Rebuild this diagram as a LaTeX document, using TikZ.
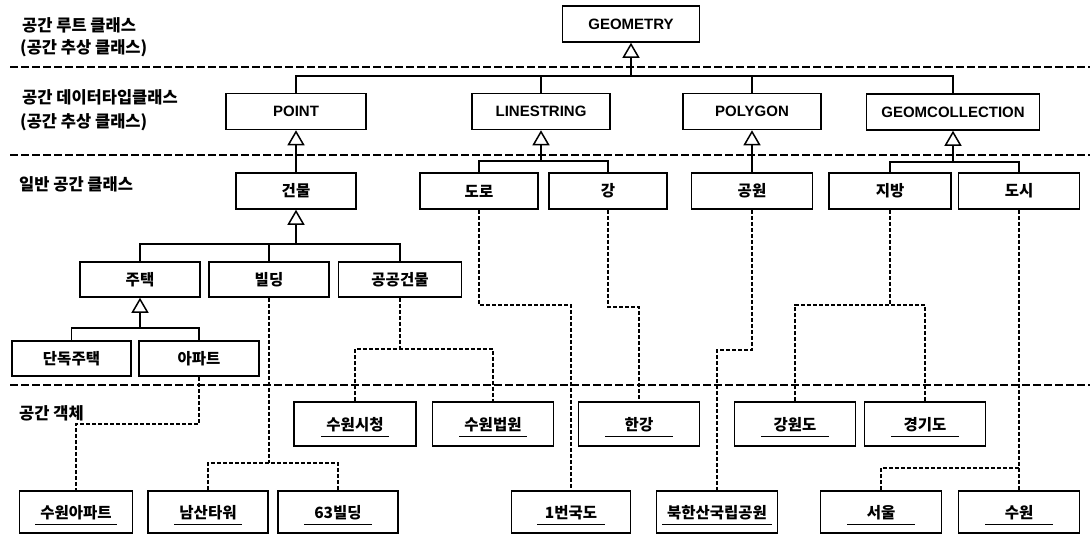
\documentclass[tikz,border=0pt]{standalone}
\usepackage{fontspec}
\setmainfont{Noto Sans CJK KR}
\newfontfamily\latinsf{Liberation Sans}
\usetikzlibrary{arrows.meta}

% object name with a UML-style underline (at least 68pt long)
\newcommand\objlabel[1]{%
  \setbox0\hbox{#1}%
  \dimen0=\wd0 \advance\dimen0 by 10pt
  \ifdim\dimen0<68pt \dimen0=68pt\fi
  \vbox{\kern6pt\hbox to\dimen0{\hss\copy0\hss}\kern4pt\hrule height1.3pt}}

\tikzset{
  cls/.style={draw, line width=1.5pt, inner sep=0pt, minimum height=35,
    font=\bfseries\fontsize{15.5}{17}\selectfont},
  geo/.style={cls, minimum height=36, font=\latinsf\bfseries\fontsize{15}{17}\selectfont},
  obj/.style={cls, minimum height=44},
  gen/.style={line width=1.5pt},
  genhead/.style={line width=1.5pt, -{Triangle[open,length=15pt,width=17pt]}},
  inst/.style={line width=2.2pt, dash pattern=on 4pt off 2pt},
  sep/.style={line width=2pt, dash pattern=on 8pt off 3pt},
  lbl/.style={anchor=west, inner sep=0pt, font=\bfseries\fontsize{16.5}{18}\selectfont},
}

\begin{document}
\begin{tikzpicture}[x=1pt, y=-1pt]
\fill[white] (0,0) rectangle (1092,536);
\useasboundingbox (0,0) rectangle (1092,536);

% layer separators
\coordinate (s1a) at (10,67);  \coordinate (s1b) at (1090,67);
\coordinate (s2a) at (10,155); \coordinate (s2b) at (1090,155);
\coordinate (s3a) at (10,385); \coordinate (s3b) at (1090,385);
\draw[sep] (s1a) -- (s1b);
\draw[sep] (s2a) -- (s2b);
\draw[sep] (s3a) -- (s3b);

% layer captions
\node[lbl] (t1) at (22,25)  {공간 루트 클래스};
\node[lbl] (t2) at (20,48)  {(공간 추상 클래스)};
\node[lbl] (t3) at (22,97)  {공간 데이터타입클래스};
\node[lbl] (t4) at (20,122) {(공간 추상 클래스)};
\node[lbl] (t5) at (19,184) {일반 공간 클래스};
\node[lbl] (t6) at (19,413) {공간 객체};

% root and data type classes
\node[geo, minimum width=137] (geom) at (631,24) {GEOMETRY};
\node[geo, minimum width=140] (point) at (296,111.5) {POINT};
\node[geo, minimum width=138] (ls) at (541,111.5) {LINESTRING};
\node[geo, minimum width=138] (poly) at (752,111.5) {POLYGON};
\node[geo, minimum width=173] (gc) at (953,112) {GEOMCOLLECTION};

% general spatial classes
\node[cls, minimum width=120, minimum height=36] (bldg) at (296,191) {건물};
\node[cls, minimum width=118, minimum height=36] (road) at (479,191) {도로};
\node[cls, minimum width=118, minimum height=36] (river) at (608,191) {강};
\node[cls, minimum width=121, minimum height=36] (park) at (752,191) {공원};
\node[cls, minimum width=122, minimum height=36] (region) at (890,191) {지방};
\node[cls, minimum width=121, minimum height=36] (city) at (1019,191) {도시};

\node[cls, minimum width=120] (house) at (140,279.5) {주택};
\node[cls, minimum width=120] (tower) at (269,279.5) {빌딩};
\node[cls, minimum width=123] (public) at (400,279.5) {공공건물};

\node[cls, minimum width=119] (detached) at (71.5,358.5) {단독주택};
\node[cls, minimum width=120] (apt) at (199,358.5) {아파트};

% spatial objects
\node[obj, minimum width=122] (cityhall) at (355,424) {\objlabel{수원시청}};
\node[obj, minimum width=121] (court) at (493,424) {\objlabel{수원법원}};
\node[obj, minimum width=121] (hangang) at (639,424) {\objlabel{한강}};
\node[obj, minimum width=121] (gangwon) at (795,424) {\objlabel{강원도}};
\node[obj, minimum width=121] (gyeonggi) at (925,424) {\objlabel{경기도}};

\node[obj, minimum width=113, minimum height=42] (swapt) at (76,512) {\objlabel{수원아파트}};
\node[obj, minimum width=120, minimum height=42] (namsan) at (208,512) {\objlabel{남산타워}};
\node[obj, minimum width=120, minimum height=42] (b63) at (338,512) {\objlabel{63빌딩}};
\node[obj, minimum width=119, minimum height=42] (route1) at (571,512) {\objlabel{1번국도}};
\node[obj, minimum width=121, minimum height=42] (bukhan) at (717,512) {\objlabel{북한산국립공원}};
\node[obj, minimum width=121, minimum height=42] (seoul) at (881,512) {\objlabel{서울}};
\node[obj, minimum width=121, minimum height=42] (suwon) at (1019,512) {\objlabel{수원}};

% generalization: data types -> GEOMETRY
\coordinate (jTop) at (631,76);
\draw[genhead] (jTop) -- (geom.south);
\draw[gen] (point.north) |- (jTop) -| (gc.north);
\draw[gen] (ls.north) -- (ls.north |- jTop);
\draw[gen] (poly.north) -- (poly.north |- jTop);

% generalization: general classes -> data types
\draw[genhead] (bldg.north) -- (point.south);
\draw[genhead] (park.north) -- (poly.south);
\coordinate (jLS) at (541,161);
\draw[genhead] (jLS) -- (ls.south);
\draw[gen] (road.north) |- (jLS) -| (river.north);
\coordinate (jGC) at (953,162);
\draw[genhead] (jGC) -- (gc.south);
\draw[gen] (region.north) |- (jGC) -| (city.north);

% generalization: building hierarchy
\coordinate (jB) at (296,244);
\draw[genhead] (jB) -- (bldg.south);
\draw[gen] (house.north) |- (jB) -| (public.north);
\draw[gen] (tower.north) -- (tower.north |- jB);
\coordinate (jH) at (140,328);
\draw[genhead] (jH) -- (house.south);
\draw[gen] (detached.north) |- (jH) -| (apt.north);

% instance-of links
\draw[inst] (apt.south) -- ++(0,47) -| (swapt.north);
\coordinate (jT) at (269,463);
\draw[inst] (tower.south) -- (jT);
\draw[inst] (namsan.north) |- (jT) -| (b63.north);
\coordinate (jP) at (400,349);
\draw[inst] (public.south) -- (jP);
\draw[inst] (cityhall.north) |- (jP) -| (court.north);
\draw[inst] (road.south) -- ++(0,95) -| (route1.north);
\draw[inst] (river.south) -- ++(0,97) -| (hangang.north);
\draw[inst] (park.south) -- ++(0,140) -| (bukhan.north);
\coordinate (jR) at (890,305);
\draw[inst] (region.south) -- (jR);
\draw[inst] (gangwon.north) |- (jR) -| (gyeonggi.north);
\coordinate (jC) at (1019,468);
\draw[inst] (city.south) -- (suwon.north);
\draw[inst] (seoul.north) |- (jC);
\end{tikzpicture}
\end{document}
